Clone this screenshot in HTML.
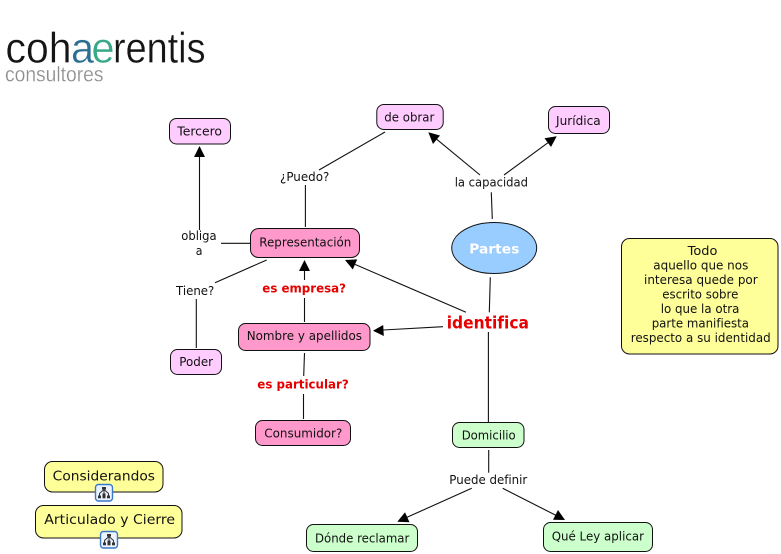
<!DOCTYPE html>
<html lang="es"><head><meta charset="utf-8"><title>Partes</title>
<style>
html,body{margin:0;padding:0;background:#fff}
svg{display:block}
text{font-family:"DejaVu Sans","Liberation Sans",sans-serif;font-size:12px;fill:#111}
.b{font-weight:bold;fill:#e60000;font-size:12px}
rect.n{stroke:#111;stroke-width:1}
line{stroke:#111;stroke-width:1.1}
polygon{fill:#000}
.logo{font-family:"Liberation Sans",sans-serif}
</style></head><body>
<svg width="781" height="554" viewBox="0 0 781 554" xmlns="http://www.w3.org/2000/svg">
<!-- logo -->
<g class="logo">
<text class="logo" x="5.5" y="62.7" style="font-size:43px;fill:#151515;stroke:#fff;stroke-width:.35" textLength="66" lengthAdjust="spacingAndGlyphs">coh</text>
<text class="logo" x="71" y="62.7" style="font-size:43px;fill:#2a6f93;stroke:#fff;stroke-width:.35" textLength="23" lengthAdjust="spacingAndGlyphs">a</text>
<text class="logo" x="91.5" y="62.7" style="font-size:43px;fill:#3aa888;stroke:#fff;stroke-width:.35" textLength="23" lengthAdjust="spacingAndGlyphs">e</text>
<text class="logo" x="113" y="62.7" style="font-size:43px;fill:#151515;stroke:#fff;stroke-width:.35" textLength="92.5" lengthAdjust="spacingAndGlyphs">rentis</text>
<text class="logo" x="5" y="81.7" style="font-size:21px;fill:#8d8d8d;stroke:#fff;stroke-width:.25" textLength="98.5" lengthAdjust="spacingAndGlyphs">consultores</text>
</g>
<!-- connectors -->
<line x1="385" y1="132" x2="319" y2="170"/>
<line x1="305.4" y1="185" x2="305.4" y2="227"/>
<line x1="199.5" y1="230" x2="199.5" y2="156"/>
<polygon points="199.5,146 205,157 194,157"/>
<line x1="221" y1="243.3" x2="250" y2="243.3"/>
<line x1="266.7" y1="260" x2="215" y2="282.7"/>
<line x1="196.3" y1="299" x2="196.3" y2="348"/>
<line x1="304.5" y1="270" x2="304.5" y2="280"/>
<line x1="304.5" y1="298" x2="304.5" y2="322"/>
<polygon points="304.5,260 310,271 299,271"/>
<line x1="304.5" y1="353" x2="303.7" y2="376"/>
<line x1="303.5" y1="394" x2="303.5" y2="419"/>
<line x1="466" y1="312.3" x2="355" y2="264.4"/>
<polygon points="345,260 357.2,259.4 352.8,269.5"/>
<line x1="443" y1="326.7" x2="383" y2="330"/>
<polygon points="373,330.7 383.2,325 383.8,336"/>
<line x1="490.3" y1="277.3" x2="489.3" y2="312.3"/>
<line x1="488.4" y1="332" x2="488.4" y2="422"/>
<line x1="491.3" y1="192.3" x2="492.3" y2="219"/>
<line x1="480" y1="175" x2="436" y2="138.7"/>
<polygon points="428.3,132.3 440,135.5 433,144"/>
<line x1="504" y1="175" x2="548" y2="142.7"/>
<polygon points="556.7,136.3 551,147 544.5,138.2"/>
<line x1="488.7" y1="450" x2="488.7" y2="472.7"/>
<line x1="471.7" y1="488.3" x2="407" y2="517.3"/>
<polygon points="397.3,521.7 405,512.2 409.5,522.2"/>
<line x1="502.7" y1="488.3" x2="556" y2="515.4"/>
<polygon points="565,520 553,519.8 558,510"/>
<!-- nodes -->
<rect class="n" x="169.5" y="118.5" width="61" height="25.5" rx="7" fill="#ffccff"/>
<rect class="n" x="376.8" y="104.5" width="66.4" height="25" rx="7" fill="#ffccff"/>
<rect class="n" x="548.5" y="106.5" width="61" height="27" rx="7" fill="#ffccff"/>
<ellipse cx="494.2" cy="248" rx="42.5" ry="25.5" fill="#99ccff" stroke="#111" stroke-width="1"/>
<rect class="n" x="250.5" y="228.5" width="109" height="29" rx="8" fill="#ff99cc"/>
<rect class="n" x="238.5" y="323.5" width="131.5" height="27" rx="7" fill="#ff99cc"/>
<rect class="n" x="170.5" y="349.5" width="51" height="25" rx="7" fill="#ffccff"/>
<rect class="n" x="255.5" y="420.5" width="95" height="25" rx="7" fill="#ff99cc"/>
<rect class="n" x="452.5" y="422.5" width="71.5" height="25" rx="7" fill="#ccffcc"/>
<rect class="n" x="306.5" y="524.5" width="111" height="27" rx="7" fill="#ccffcc"/>
<rect class="n" x="543.5" y="522.5" width="109" height="29" rx="7" fill="#ccffcc"/>
<rect class="n" x="621.5" y="238.5" width="156.5" height="115.5" rx="8" fill="#ffff99"/>
<rect class="n" x="44.5" y="461.5" width="118.5" height="30.5" rx="8" fill="#ffff99"/>
<rect class="n" x="35.5" y="505.5" width="146.5" height="32.5" rx="8" fill="#ffff99"/>
<!-- icons -->
<g transform="translate(95.5,484.5)">
<rect x="0" y="0" width="17" height="16.5" rx="3" fill="#eaf3ff" stroke="#3a78c8" stroke-width="1.4"/>
<rect x="6.5" y="2.5" width="4" height="2.6" fill="#333"/>
<path d="M8.5 5 L4 9 L4 11 M8.5 5 L8.5 9 M8.5 5 L13 9 L13 11" fill="none" stroke="#333" stroke-width="1"/>
<rect x="2.5" y="11" width="3" height="2.8" fill="#333"/>
<rect x="7" y="9" width="3" height="4.8" fill="#333"/>
<rect x="11.5" y="11" width="3" height="2.8" fill="#333"/>
</g>
<g transform="translate(100.5,531.5)">
<rect x="0" y="0" width="17" height="16.5" rx="3" fill="#eaf3ff" stroke="#3a78c8" stroke-width="1.4"/>
<rect x="6.5" y="2.5" width="4" height="2.6" fill="#333"/>
<path d="M8.5 5 L4 9 L4 11 M8.5 5 L8.5 9 M8.5 5 L13 9 L13 11" fill="none" stroke="#333" stroke-width="1"/>
<rect x="2.5" y="11" width="3" height="2.8" fill="#333"/>
<rect x="7" y="9" width="3" height="4.8" fill="#333"/>
<rect x="11.5" y="11" width="3" height="2.8" fill="#333"/>
</g>
<!-- labels -->
<text x="177.3" y="135.7" textLength="44.7" lengthAdjust="spacingAndGlyphs">Tercero</text>
<text x="384.3" y="121.7" textLength="50" lengthAdjust="spacingAndGlyphs">de obrar</text>
<text x="556" y="125" textLength="44.7" lengthAdjust="spacingAndGlyphs">Jurídica</text>
<text x="469.3" y="253.3" textLength="50" lengthAdjust="spacingAndGlyphs" style="font-weight:bold;font-size:13.5px;fill:#fff">Partes</text>
<text x="454.7" y="186.7" textLength="73.3" lengthAdjust="spacingAndGlyphs">la capacidad</text>
<text x="280" y="181" textLength="49.3" lengthAdjust="spacingAndGlyphs">¿Puedo?</text>
<text x="181.3" y="240" textLength="35.3" lengthAdjust="spacingAndGlyphs">obliga</text>
<text x="195.7" y="255" textLength="6.7" lengthAdjust="spacingAndGlyphs">a</text>
<text x="259.3" y="246.7" textLength="92" lengthAdjust="spacingAndGlyphs">Representación</text>
<text x="176" y="295" textLength="38.3" lengthAdjust="spacingAndGlyphs">Tiene?</text>
<text class="b" x="262.3" y="292.7" textLength="83.7" lengthAdjust="spacingAndGlyphs">es empresa?</text>
<text x="246.7" y="340" textLength="115.3" lengthAdjust="spacingAndGlyphs">Nombre y apellidos</text>
<text class="b" x="257.3" y="388.3" textLength="91.4" lengthAdjust="spacingAndGlyphs">es particular?</text>
<text x="179.3" y="366" textLength="33.7" lengthAdjust="spacingAndGlyphs">Poder</text>
<text x="264.3" y="437.3" textLength="78" lengthAdjust="spacingAndGlyphs">Consumidor?</text>
<text class="b" x="446.7" y="328.3" textLength="82.3" lengthAdjust="spacingAndGlyphs" style="font-size:16.5px">identifica</text>
<text x="461.7" y="439.3" textLength="54" lengthAdjust="spacingAndGlyphs">Domicilio</text>
<text x="449.3" y="484" textLength="78" lengthAdjust="spacingAndGlyphs">Puede definir</text>
<text x="315" y="542.7" textLength="94.3" lengthAdjust="spacingAndGlyphs">Dónde reclamar</text>
<text x="551.7" y="540.7" textLength="92.3" lengthAdjust="spacingAndGlyphs">Qué Ley aplicar</text>
<text x="687.7" y="255" textLength="29.7" lengthAdjust="spacingAndGlyphs">Todo</text>
<text x="653.3" y="269.5" textLength="95" lengthAdjust="spacingAndGlyphs">aquello que nos</text>
<text x="644" y="284" textLength="113.7" lengthAdjust="spacingAndGlyphs">interesa quede por</text>
<text x="662.3" y="298.5" textLength="76" lengthAdjust="spacingAndGlyphs">escrito sobre</text>
<text x="660.7" y="313" textLength="78.7" lengthAdjust="spacingAndGlyphs">lo que la otra</text>
<text x="651.7" y="327.5" textLength="97.3" lengthAdjust="spacingAndGlyphs">parte manifiesta</text>
<text x="630.7" y="342" textLength="140" lengthAdjust="spacingAndGlyphs">respecto a su identidad</text>
<text x="52.7" y="480.7" textLength="102.3" lengthAdjust="spacingAndGlyphs" style="font-size:13.5px">Considerandos</text>
<text x="44.3" y="524" textLength="130.7" lengthAdjust="spacingAndGlyphs" style="font-size:13.5px">Articulado y Cierre</text>
</svg>
</body></html>
